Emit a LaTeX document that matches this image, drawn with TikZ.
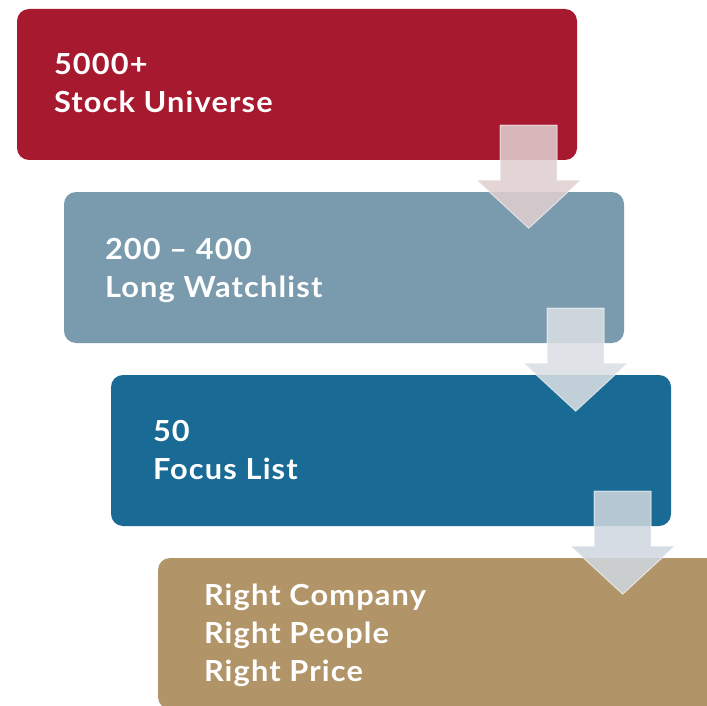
\documentclass[tikz,border=0pt]{standalone}
\usepackage{fontspec}
\setmainfont{Lato}[FakeStretch=1.06, LetterSpace=4]
\usepackage{tikz}
\usetikzlibrary{positioning}

\definecolor{universered}{HTML}{A6192E}
\definecolor{watchgrey}{HTML}{7A9BAE}
\definecolor{focusblue}{HTML}{196A94}
\definecolor{rightgold}{HTML}{B19468}
\definecolor{arrowpink}{HTML}{E0CFD1}
\definecolor{arrowgrey}{HTML}{DADFE3}
\definecolor{arrowblue}{HTML}{CFD7DF}

\tikzset{
  stage/.style={rectangle, rounded corners=12pt, minimum width=560pt, minimum height=151pt, inner sep=0pt},
  stagetext/.style={anchor=north west, inner sep=0pt, text=white, align=left, font=\bfseries\fontsize{29}{38}\selectfont},
  funnel/.style={draw=white, draw opacity=0.6, line width=1pt, fill opacity=0.87}
}

\begin{document}
\begin{tikzpicture}[x=1pt, y=-1pt]
\useasboundingbox (0,0) rectangle (707,706);
\clip (0,0) rectangle (707,706);

% the four stages, each one stepped to the right
\node[stage, fill=universered] (universe) at (297,84.5) {};
\node[stage, fill=watchgrey] (watch) at (344,267.5) {};
\node[stage, fill=focusblue] (focus) at (391,450.5) {};
\node[stage, fill=rightgold] (right) at (438,633.5) {};

\node[stagetext] (universetext) at ([xshift=37pt, yshift=-44pt]universe.north west) {5000+\\Stock Universe};
\node[stagetext] (watchtext) at ([xshift=41pt, yshift=-46pt]watch.north west) {200 -- 400\\Long Watchlist};
\node[stagetext] (focustext) at ([xshift=42pt, yshift=-45pt]focus.north west) {50\\Focus List};
\node[stagetext] (righttext) at ([xshift=46pt, yshift=-26pt]right.north west) {Right Company\\Right People\\Right Price};

% block arrows from one stage down to the next
\foreach \s/\c in {universe/arrowpink, watch/arrowgrey, focus/arrowblue}{
  \coordinate (\s top) at ([xshift=-48.5pt, yshift=35pt]\s.south east);
  \draw[funnel, fill=\c] (\s top) ++(-28.5,0) -- ++(57,0) -- ++(0,55) -- ++(23.5,0)
    -- ++(-52,48) -- ++(-52,-48) -- ++(23.5,0) -- cycle;
}
\end{tikzpicture}
\end{document}
